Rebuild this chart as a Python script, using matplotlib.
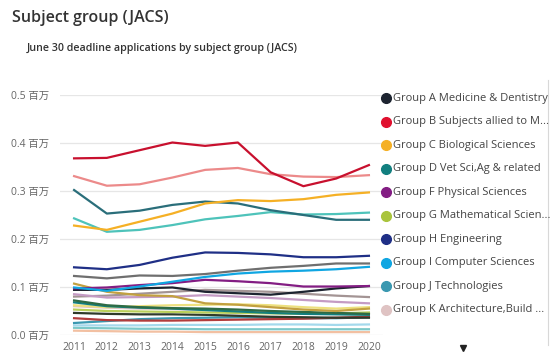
import matplotlib
matplotlib.use("Agg")
import matplotlib.pyplot as plt
from matplotlib.ticker import FuncFormatter

plt.rcParams["font.family"] = ["Open Sans", "Noto Sans CJK SC", "DejaVu Sans"]

years = [2011, 2012, 2013, 2014, 2015, 2016, 2017, 2018, 2019, 2020]

# applications in millions
group_a = [0.094, 0.094, 0.097, 0.099, 0.090, 0.087, 0.084, 0.090, 0.097, 0.102]
group_b = [0.368, 0.369, 0.385, 0.401, 0.394, 0.401, 0.339, 0.310, 0.326, 0.354]
group_c = [0.228, 0.219, 0.236, 0.253, 0.274, 0.281, 0.279, 0.283, 0.292, 0.297]
group_d = [0.068, 0.060, 0.057, 0.055, 0.052, 0.049, 0.046, 0.044, 0.043, 0.042]
group_f = [0.097, 0.099, 0.104, 0.108, 0.115, 0.112, 0.108, 0.101, 0.101, 0.102]
group_g = [0.053, 0.050, 0.049, 0.048, 0.047, 0.046, 0.045, 0.044, 0.045, 0.047]
group_h = [0.141, 0.137, 0.146, 0.161, 0.172, 0.171, 0.168, 0.162, 0.162, 0.165]
group_i = [0.099, 0.092, 0.101, 0.111, 0.121, 0.128, 0.132, 0.134, 0.137, 0.142]
group_j = [0.025, 0.029, 0.033, 0.035, 0.036, 0.037, 0.036, 0.035, 0.035, 0.037]
group_k = [0.060, 0.057, 0.055, 0.054, 0.052, 0.050, 0.048, 0.046, 0.044, 0.043]
group_l = [0.331, 0.311, 0.314, 0.328, 0.344, 0.348, 0.335, 0.330, 0.329, 0.333]
group_m = [0.302, 0.253, 0.259, 0.271, 0.278, 0.274, 0.260, 0.250, 0.240, 0.240]
group_n = [0.243, 0.215, 0.219, 0.229, 0.241, 0.248, 0.256, 0.251, 0.252, 0.255]
group_p = [0.123, 0.118, 0.124, 0.123, 0.127, 0.134, 0.140, 0.144, 0.149, 0.149]
group_q = [0.107, 0.090, 0.083, 0.081, 0.066, 0.063, 0.058, 0.053, 0.050, 0.055]
group_r = [0.085, 0.078, 0.079, 0.080, 0.083, 0.080, 0.077, 0.073, 0.069, 0.066]
group_t = [0.080, 0.082, 0.086, 0.090, 0.094, 0.092, 0.090, 0.086, 0.082, 0.079]
group_v = [0.072, 0.062, 0.058, 0.056, 0.055, 0.053, 0.050, 0.048, 0.046, 0.044]
group_w = [0.062, 0.058, 0.060, 0.062, 0.063, 0.064, 0.062, 0.058, 0.055, 0.058]
group_x = [0.035, 0.031, 0.030, 0.030, 0.031, 0.032, 0.033, 0.034, 0.036, 0.038]
group_y = [0.046, 0.044, 0.043, 0.043, 0.042, 0.040, 0.038, 0.037, 0.036, 0.036]
group_z = [0.020, 0.020, 0.020, 0.021, 0.021, 0.021, 0.022, 0.022, 0.021, 0.022]
group_zz = [0.015, 0.014, 0.013, 0.013, 0.012, 0.012, 0.012, 0.012, 0.012, 0.012]
group_other = [0.009, 0.008, 0.007, 0.007, 0.006, 0.006, 0.006, 0.006, 0.006, 0.006]

legend_labels = [
    "Group A Medicine & Dentistry",
    "Group B Subjects allied to M...",
    "Group C Biological Sciences",
    "Group D Vet Sci,Ag & related",
    "Group F Physical Sciences",
    "Group G Mathematical Scien...",
    "Group H Engineering",
    "Group I Computer Sciences",
    "Group J Technologies",
    "Group K Architecture,Build ...",
]
legend_colors = ["#1d2430", "#e0102f", "#f5b025", "#127f7f", "#831d83",
                 "#a9c43c", "#1f2f86", "#10a6e2", "#3a98b0", "#dfc3c3"]

series = [
    (group_other, "#f2c0a2"), (group_zz, "#7cc8c8"), (group_z, "#a4d9ec"),
    (group_j, "#3a98b0"), (group_x, "#b23c3c"), (group_y, "#2f3a2a"),
    (group_g, "#b9cf5a"), (group_k, "#dfc3c3"), (group_w, "#ede07e"),
    (group_d, "#127f7f"), (group_v, "#2e6b45"), (group_t, "#a39494"),
    (group_r, "#c49bc4"), (group_q, "#c2a040"), (group_a, "#1d2430"),
    (group_f, "#831d83"), (group_i, "#10a6e2"), (group_p, "#6f6f6f"),
    (group_h, "#1f2f86"), (group_n, "#4ec3ba"), (group_m, "#2a6e7a"),
    (group_c, "#f5b025"), (group_l, "#ec8a8a"), (group_b, "#c8102e"),
]

fig = plt.figure(figsize=(5.53, 3.6), dpi=100)
ax = fig.add_axes([60 / 553, 25 / 360, 323 / 553, 240 / 360])

for vals, col in series:
    ax.plot(years, vals, color=col, lw=1.6, solid_joinstyle="round")

ax.set_xlim(2010.57, 2020.43)
ax.set_ylim(0, 0.5)
ax.set_yticks([0, 0.1, 0.2, 0.3, 0.4, 0.5])
ax.yaxis.set_major_formatter(FuncFormatter(lambda v, p: f"{v:.1f} 百万"))
ax.set_xticks(years)
ax.grid(axis="y", color="#e6e6e6", lw=0.9)
ax.set_axisbelow(True)
for s in ax.spines.values():
    s.set_visible(False)
ax.tick_params(length=0, labelsize=7.5, labelcolor="#666666")
ax.tick_params(axis="y", pad=8)
ax.tick_params(axis="x", pad=5)

fig.text(12 / 553, 1 - 18 / 360, "Subject group (JACS)", fontsize=11.5,
         fontweight="semibold", color="#333333", va="center")
fig.text(27 / 553, 1 - 48 / 360, "June 30 deadline applications by subject group (JACS)",
         fontsize=7.7, fontweight="semibold", color="#333333", va="center")

# legend, drawn by hand
for i, (lab, col) in enumerate(zip(legend_labels, legend_colors)):
    yy = 1 - (98.3 + i * 23.5) / 360
    fig.lines.append(plt.Line2D([386 / 553], [yy], marker="o", ms=7, color=col,
                                transform=fig.transFigure))
    fig.text(393 / 553, yy, lab, fontsize=8, color="#444444", va="center")

fig.lines.append(plt.Line2D([548 / 553, 548 / 553], [1 - 80 / 360, 1 - 345 / 360],
                            color="#d8d8d8", lw=0.8, transform=fig.transFigure))
fig.lines.append(plt.Line2D([463 / 553], [1 - 348 / 360], marker="v", ms=5,
                            color="#222222", transform=fig.transFigure))

fig.savefig("out.png", dpi=100)
